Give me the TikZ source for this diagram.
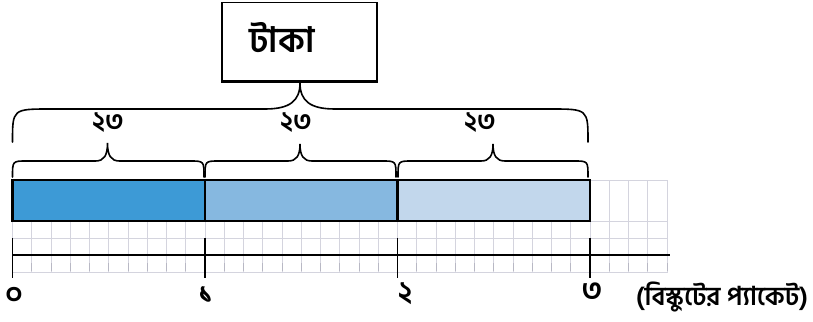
\documentclass[tikz,border=0pt]{standalone}
\usepackage{fontspec}
\newfontfamily\bn[Script=Bengali]{Hind Siliguri}
\definecolor{gridgray}{HTML}{D4D4DE}
\definecolor{tickgray}{HTML}{B8B8C4}
\definecolor{barA}{HTML}{3D9AD6}
\definecolor{barB}{HTML}{86B8E0}
\definecolor{barC}{HTML}{C2D7EC}
\newcommand\curlybrace[8]{%
  \draw[bracestyle] (#1,#4) .. controls (#1,#5) .. ({#1+#7},#5) -- ({#2-#8},#5)
    .. controls ({#2-0.3*#8},#5) and (#2,{#5-0.3*(#5-#6)}) .. (#2,#6)
    .. controls (#2,{#5-0.3*(#5-#6)}) and ({#2+0.3*#8},#5) .. ({#2+#8},#5)
    -- ({#3-#7},#5) .. controls (#3,#5) .. (#3,#4);}
\begin{document}
\begin{tikzpicture}[x=1pt,y=-1pt,
  barbox/.style={draw=black, line width=2.4pt},
  gridline/.style={draw=gridgray, line width=0.8pt},
  bracestyle/.style={draw=black, line width=1.6pt, line cap=round},
  lbl/.style={font=\bn\bfseries\fontsize{27}{29}\selectfont, inner sep=0pt},
  axislbl/.style={font=\bn\bfseries\fontsize{30}{32}\selectfont, inner sep=0pt},
  unitlbl/.style={font=\bn\bfseries\fontsize{26}{28}\selectfont, inner sep=0pt}]
\useasboundingbox (0,0) rectangle (813,321);
% grid
\foreach \i in {0,...,34} {
  \draw[gridline] ({12.5+\i*19.25},180) -- ({12.5+\i*19.25},272);
  \draw[tickgray, line width=0.9pt] ({12.5+\i*19.25},263) -- ({12.5+\i*19.25},271);
}
\foreach \y in {180,221,238,255,272}
  \draw[gridline] (12.5,\y) -- (667.5,\y);
% bars
\draw[barbox, fill=barA] (12.5,180) rectangle (205,221);
\draw[barbox, fill=barB] (205,180) rectangle (397.5,221);
\draw[barbox, fill=barC] (397.5,180) rectangle (590,221);
% axis
\draw[line width=2.6pt] (12.5,255) -- (670,255);
\foreach \x in {12.5,205,397.5,590}
  \draw[line width=1.8pt] (\x,238) -- (\x,278);
% axis labels
\node[axislbl] (n0) at (14,296) {০};
\node[axislbl] (n1) at (206,295) {১};
\node[axislbl] (n2) at (405,294) {২};
\node[axislbl] (n3) at (592,292) {৩};
\node[unitlbl] (unit) at (722,297) {(বিস্কুটের প্যাকেট)};
% box
\node[draw, line width=1.2pt, minimum width=155pt, minimum height=78pt, inner sep=0pt] (box) at (299.5,41.5) {};
\draw[line width=3pt] (box.south west) -- (box.south east);
\node[font=\bn\bfseries\fontsize{35}{37}\selectfont, inner sep=0pt] (taka) at (282,38) {টাকা};
% braces
\curlybrace{12.5}{300}{588}{142}{109}{83}{38}{35}
\curlybrace{12.5}{107.5}{204}{177}{161}{143}{14}{12}
\curlybrace{205}{300}{396}{177}{161}{144}{14}{12}
\curlybrace{398}{493}{588}{177}{161}{144}{14}{12}
% brace labels
\node[lbl] (l1) at (108,123) {২৩};
\node[lbl] (l2) at (296,123) {২৩};
\node[lbl] (l3) at (480,123) {২৩};
\end{tikzpicture}
\end{document}
